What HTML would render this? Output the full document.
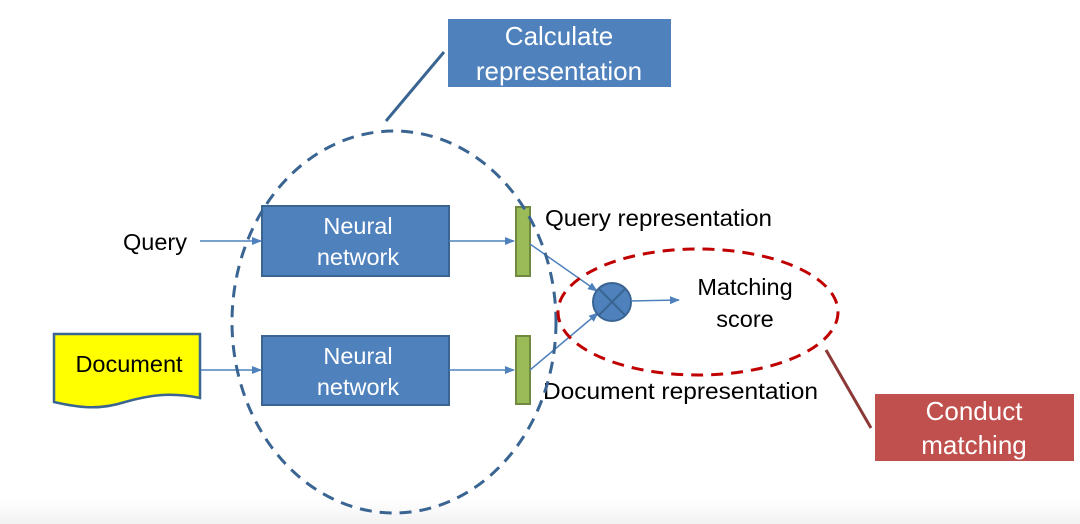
<!DOCTYPE html>
<html><head><meta charset="utf-8"><style>
html,body{margin:0;padding:0;background:#fff;}
svg{display:block;}
text{font-family:"Liberation Sans",sans-serif;}
</style></head><body>
<svg width="1080" height="524" viewBox="0 0 1080 524" xmlns="http://www.w3.org/2000/svg">
<defs>
<linearGradient id="bg" x1="0" y1="0" x2="0" y2="1"><stop offset="0" stop-color="#fff"/><stop offset="1" stop-color="#f2f2f2"/></linearGradient>
<marker id="ar" markerWidth="10" markerHeight="8" refX="9" refY="4" orient="auto" markerUnits="userSpaceOnUse"><path d="M0,0 L10,4 L0,8 z" fill="#4f81bd"/></marker>
</defs>
<rect x="0" y="500" width="1080" height="24" fill="url(#bg)"/>
<line x1="444" y1="52" x2="386" y2="121" stroke="#3a6592" stroke-width="3"/>
<rect x="448" y="19" width="223" height="68" fill="#4f81bd"/>
<text x="559" y="45" font-size="26" fill="#fff" text-anchor="middle">Calculate</text>
<text x="559" y="80" font-size="26" fill="#fff" text-anchor="middle">representation</text>
<rect x="262" y="206" width="187" height="70" fill="#4f81bd" stroke="#3a6592" stroke-width="2"/>
<text x="358" y="234" font-size="23.5" fill="#fff" text-anchor="middle">Neural</text>
<text x="358" y="265" font-size="23.5" fill="#fff" text-anchor="middle">network</text>
<rect x="262" y="336" width="187" height="69" fill="#4f81bd" stroke="#3a6592" stroke-width="2"/>
<text x="358" y="364" font-size="23.5" fill="#fff" text-anchor="middle">Neural</text>
<text x="358" y="395" font-size="23.5" fill="#fff" text-anchor="middle">network</text>
<text x="155" y="250" font-size="23.5" fill="#000" text-anchor="middle">Query</text>
<line x1="200" y1="241" x2="261" y2="241" stroke="#4f81bd" stroke-width="1.5" marker-end="url(#ar)"/>
<path d="M54,334 H200 V398 C170,392 150,395 125,402 C100,410 80,408 54,402 Z" fill="#ffff00" stroke="#3a6592" stroke-width="2.5"/>
<text x="129" y="372" font-size="23.5" fill="#000" text-anchor="middle">Document</text>
<line x1="201" y1="370" x2="261" y2="370" stroke="#4f81bd" stroke-width="1.5" marker-end="url(#ar)"/>
<line x1="449" y1="241" x2="514" y2="241" stroke="#4f81bd" stroke-width="1.5" marker-end="url(#ar)"/>
<line x1="449" y1="370" x2="514" y2="370" stroke="#4f81bd" stroke-width="1.5" marker-end="url(#ar)"/>
<rect x="516" y="207" width="14" height="69" fill="#9bbb59" stroke="#71893f" stroke-width="2"/>
<rect x="516" y="336" width="14" height="68" fill="#9bbb59" stroke="#71893f" stroke-width="2"/>
<text x="545" y="226" font-size="23" fill="#000" textLength="227" lengthAdjust="spacingAndGlyphs">Query representation</text>
<text x="543" y="399" font-size="23" fill="#000" textLength="275" lengthAdjust="spacingAndGlyphs">Document representation</text>
<line x1="530" y1="244" x2="597" y2="291" stroke="#4f81bd" stroke-width="1.5" marker-end="url(#ar)"/>
<line x1="530" y1="370" x2="598" y2="313" stroke="#4f81bd" stroke-width="1.5" marker-end="url(#ar)"/>
<circle cx="612" cy="302" r="19" fill="#4f81bd" stroke="#3a6592" stroke-width="2"/>
<line x1="599" y1="289" x2="625" y2="315" stroke="#3a6592" stroke-width="2"/>
<line x1="625" y1="289" x2="599" y2="315" stroke="#3a6592" stroke-width="2"/>
<line x1="631" y1="301" x2="679" y2="300" stroke="#4f81bd" stroke-width="1.5" marker-end="url(#ar)"/>
<text x="745" y="295" font-size="23.5" fill="#000" text-anchor="middle">Matching</text>
<text x="745" y="327" font-size="23.5" fill="#000" text-anchor="middle">score</text>
<ellipse cx="394" cy="322" rx="162" ry="191" fill="none" stroke="#3a6592" stroke-width="3" stroke-dasharray="12,8"/>
<ellipse cx="698" cy="312" rx="140" ry="63" fill="none" stroke="#c00000" stroke-width="3" stroke-dasharray="12,8"/>
<line x1="826" y1="350" x2="871" y2="428" stroke="#8c3836" stroke-width="3"/>
<rect x="875" y="394" width="199" height="67" fill="#c0504d"/>
<text x="974" y="420" font-size="26" fill="#fff" text-anchor="middle">Conduct</text>
<text x="974" y="454" font-size="26" fill="#fff" text-anchor="middle">matching</text>
</svg>
</body></html>
